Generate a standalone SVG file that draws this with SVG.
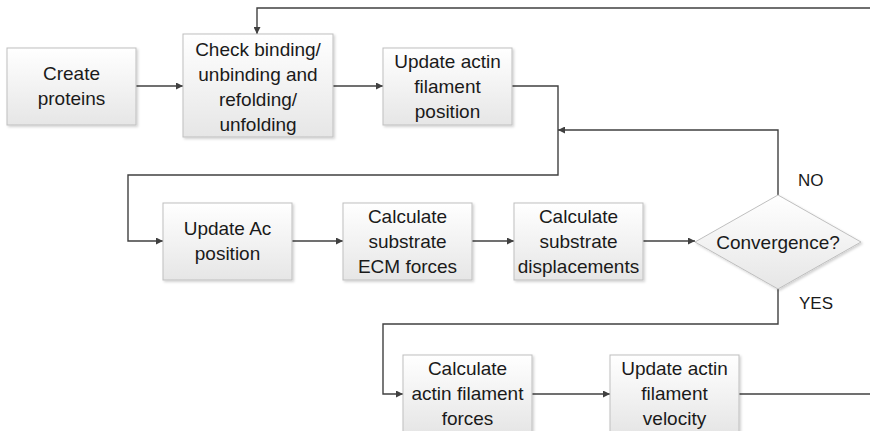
<svg xmlns="http://www.w3.org/2000/svg" width="870" height="431" viewBox="0 0 870 431">
<defs>
<linearGradient id="g" x1="0" y1="0" x2="0" y2="1">
<stop offset="0" stop-color="#ffffff"/>
<stop offset="1" stop-color="#e6e6e6"/>
</linearGradient>
<filter id="sh" x="-10%" y="-10%" width="120%" height="120%">
<feDropShadow dx="1.5" dy="1.5" stdDeviation="1" flood-color="#000" flood-opacity="0.18"/>
</filter>
<marker id="ah" viewBox="0 0 10 10" refX="10" refY="5" markerWidth="9" markerHeight="7" markerUnits="userSpaceOnUse" orient="auto">
<path d="M0,0 L10,5 L0,10 z" fill="#404040"/>
</marker>
<style>
.box{fill:url(#g);stroke:#bfbfbf;stroke-width:1;filter:url(#sh)}
.t{font-family:"Liberation Sans",Arial,sans-serif;font-size:19px;fill:#1a1a1a;text-anchor:middle}
.lbl{font-family:"Liberation Sans",Arial,sans-serif;font-size:17px;fill:#1a1a1a}
.c{fill:none;stroke:#404040;stroke-width:1.4}
.a{marker-end:url(#ah)}
</style>
</defs>
<g id="connectors">
<path class="c a" d="M136,86 H183"/>
<path class="c a" d="M333,86 H383"/>
<path class="c a" d="M512,86 H558 V175 H128 V241 H163"/>
<path class="c a" d="M778,195 V130 H558"/>
<path class="c a" d="M292,241 H343"/>
<path class="c a" d="M472,241 H514"/>
<path class="c a" d="M643,241 H695"/>
<path class="c a" d="M778,289 V324 H383 V394 H403"/>
<path class="c a" d="M532,394 H610"/>
<path class="c" d="M739,394 H870"/>
<path class="c a" d="M870,8 H257 V34"/>
</g>
<g id="n1">
<rect class="box" x="7" y="48" width="129" height="77"/>
<text class="t" x="71.5" y="80">Create</text>
<text class="t" x="71.5" y="105">proteins</text>
</g>
<g id="n2">
<rect class="box" x="183" y="34" width="150" height="103"/>
<text class="t" x="258" y="56">Check binding/</text>
<text class="t" x="258" y="81">unbinding and</text>
<text class="t" x="258" y="106">refolding/</text>
<text class="t" x="258" y="131">unfolding</text>
</g>
<g id="n3">
<rect class="box" x="383" y="48" width="129" height="77"/>
<text class="t" x="447.5" y="67.5">Update actin</text>
<text class="t" x="447.5" y="92.5">filament</text>
<text class="t" x="447.5" y="117.5">position</text>
</g>
<g id="n4">
<rect class="box" x="163" y="203" width="129" height="77"/>
<text class="t" x="227.5" y="235">Update Ac</text>
<text class="t" x="227.5" y="260">position</text>
</g>
<g id="n5">
<rect class="box" x="343" y="203" width="129" height="77"/>
<text class="t" x="407.5" y="222.5">Calculate</text>
<text class="t" x="407.5" y="247.5">substrate</text>
<text class="t" x="407.5" y="272.5">ECM forces</text>
</g>
<g id="n6">
<rect class="box" x="514" y="203" width="129" height="77"/>
<text class="t" x="578.5" y="222.5">Calculate</text>
<text class="t" x="578.5" y="247.5">substrate</text>
<text class="t" x="578.5" y="272.5">displacements</text>
</g>
<g id="n7">
<polygon class="box" points="695,242 778,195 861,242 778,289"/>
<text class="t" x="778" y="248.5">Convergence?</text>
</g>
<g id="labels">
<text class="lbl" x="798" y="186">NO</text>
<text class="lbl" x="799" y="309">YES</text>
</g>
<g id="n8">
<rect class="box" x="403" y="355" width="129" height="77"/>
<text class="t" x="467.5" y="375">Calculate</text>
<text class="t" x="467.5" y="400">actin filament</text>
<text class="t" x="467.5" y="425">forces</text>
</g>
<g id="n9">
<rect class="box" x="610" y="355" width="129" height="77"/>
<text class="t" x="674.5" y="375">Update actin</text>
<text class="t" x="674.5" y="400">filament</text>
<text class="t" x="674.5" y="425">velocity</text>
</g>
</svg>
